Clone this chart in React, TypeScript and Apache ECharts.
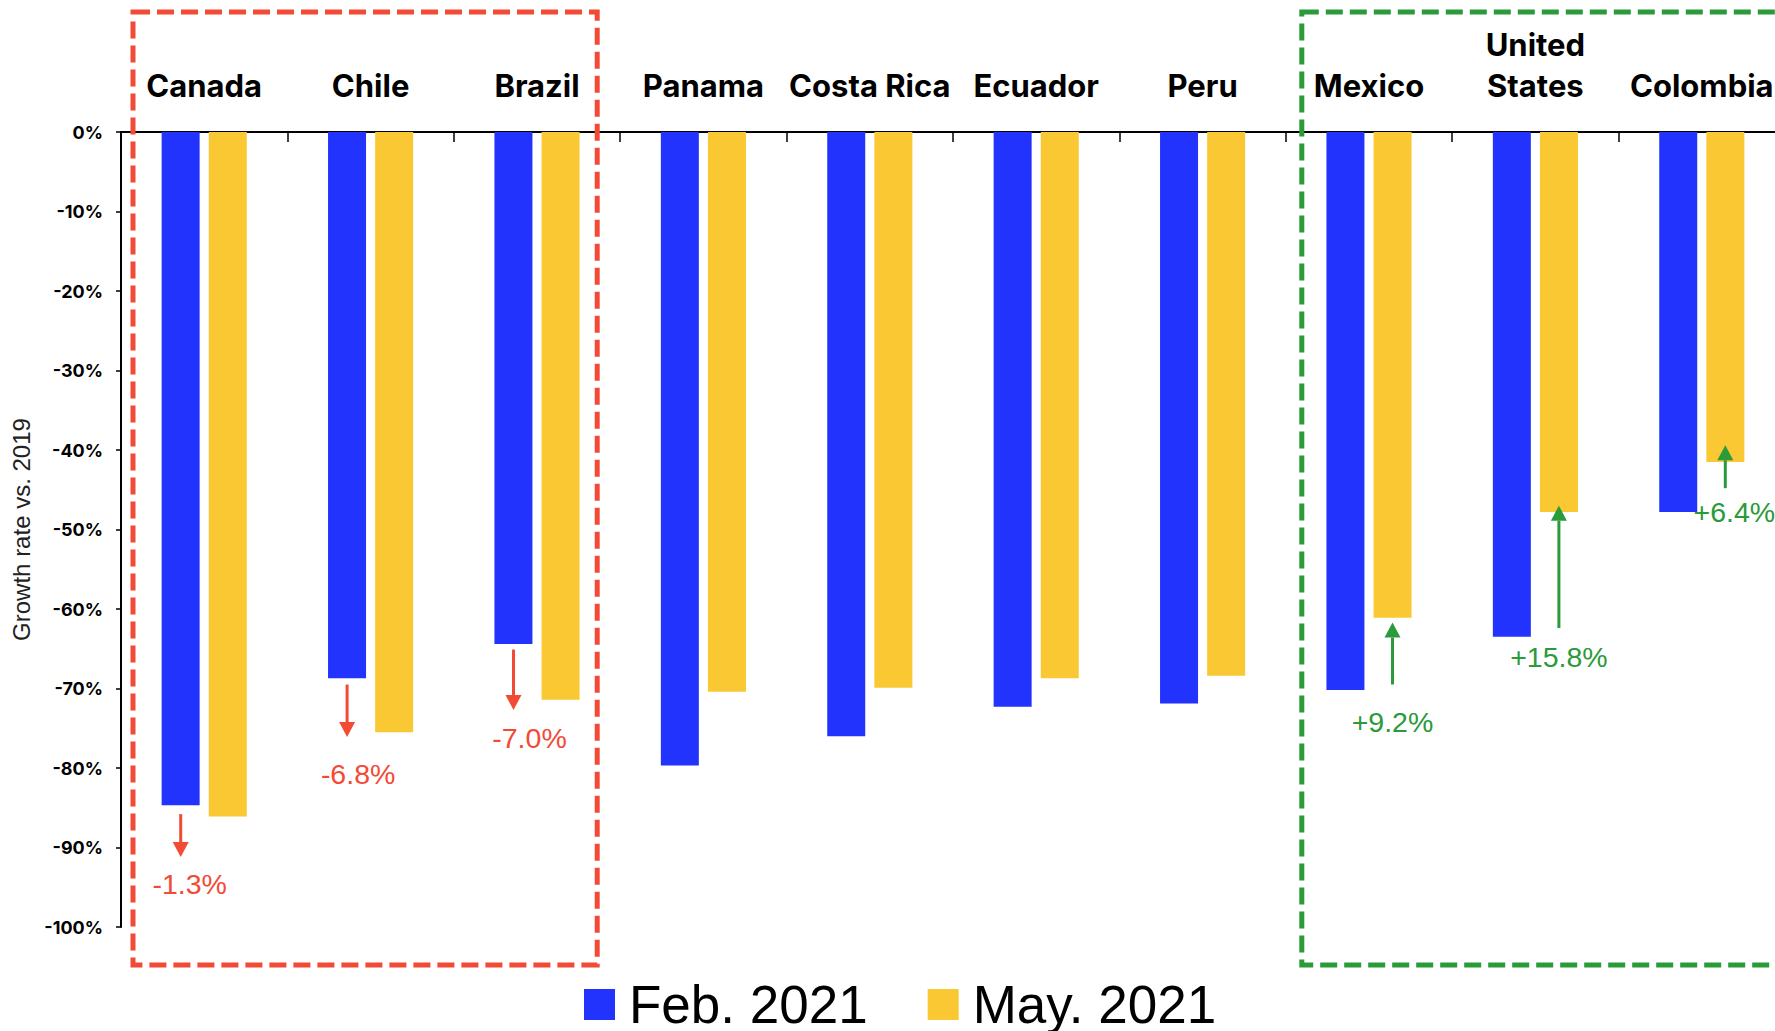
import React, { useEffect, useRef } from "react";
import * as echarts from "echarts";

const categories = [
  "Canada",
  "Chile",
  "Brazil",
  "Panama",
  "Costa Rica",
  "Ecuador",
  "Peru",
  "Mexico",
  "United\nStates",
  "Colombia",
];
const feb2021 = [-84.7, -68.7, -64.4, -79.7, -76.0, -72.3, -71.9, -70.2, -63.5, -47.8];
const may2021 = [-86.1, -75.5, -71.4, -70.4, -69.9, -68.7, -68.4, -61.1, -47.8, -41.5];
const seriesNames = ["Feb. 2021", "May. 2021"];

// change annotations: category index, bar (0 = Feb, 1 = May), arrow start/end and label value
const changeText = ["-1.3%", "-6.8%", "-7.0%", "+9.2%", "+15.8%", "+6.4%"];
const changeCat = [0, 1, 2, 7, 8, 9];
const changeBar = [0, 0, 0, 1, 1, 1];
const arrowFrom = [-85.8, -69.5, -65.1, -69.5, -62.4, -44.8];
const arrowTo = [-91.2, -76.1, -72.7, -61.7, -47.0, -39.4];
const labelAt = [-94.6, -80.7, -76.2, -74.2, -66.1, -47.8];
const labelShift = [9, 11, 16, 0, 0, 9];

// highlighted groups (first and last category index)
const groupFirst = [0, 7];
const groupLast = [2, 9];

const RED = "#F24A35";
const GREEN = "#2A9A3A";
const BLUE = "#2233FD";
const YELLOW = "#F9C833";
const BAR_W = 38;
const BAR_GAP = 9;

export default function App() {
  const ref = useRef<HTMLDivElement>(null);

  useEffect(() => {
    if (!ref.current) return;
    const chart = echarts.init(ref.current, null, { renderer: "svg" });
    const shift = (BAR_W + BAR_GAP) / 2;

    const option: any = {
      animation: false,
      backgroundColor: "#ffffff",
      grid: { left: 121, top: 132, right: 0, bottom: 104, containLabel: false },
      legend: {
        left: 579,
        top: 973,
        icon: "rect",
        itemWidth: 31,
        itemHeight: 31,
        itemGap: 60,
        data: seriesNames,
        textStyle: {
          fontSize: 53,
          fontFamily: "Liberation Sans, Arial, sans-serif",
          color: "#000",
          padding: [0, 0, 0, 9],
        },
      },
      xAxis: {
        type: "category",
        position: "top",
        data: categories,
        axisLine: { show: true, onZero: false, lineStyle: { color: "#000", width: 2 } },
        axisTick: { show: true, inside: true, length: 10, lineStyle: { color: "#000", width: 1.5 } },
        axisLabel: {
          interval: 0,
          margin: 26,
          color: "#000",
          fontSize: 31,
          fontWeight: 700,
          fontFamily: "Inter, Liberation Sans, Arial, sans-serif",
          lineHeight: 41,
        },
        splitLine: { show: false },
      },
      yAxis: {
        type: "value",
        min: -100,
        max: 0,
        interval: 10,
        name: "Growth rate vs. 2019",
        nameLocation: "middle",
        nameGap: 86,
        nameTextStyle: {
          fontSize: 24,
          fontFamily: "Liberation Sans, Arial, sans-serif",
          color: "#222",
        },
        axisLine: { show: true, lineStyle: { color: "#000", width: 2 } },
        axisTick: { show: true, length: 5, lineStyle: { color: "#000", width: 1.5 } },
        axisLabel: {
          margin: 18,
          color: "#000",
          fontSize: 18,
          fontWeight: 700,
          fontFamily: "Inter, Liberation Sans, Arial, sans-serif",
          formatter: (v: number) => `${v}%`,
        },
        splitLine: { show: false },
      },
      series: [
        {
          name: seriesNames[0],
          type: "bar",
          data: feb2021,
          barWidth: BAR_W,
          barGap: `${Math.round((BAR_GAP / BAR_W) * 100)}%`,
          itemStyle: { color: BLUE },
        },
        {
          name: seriesNames[1],
          type: "bar",
          data: may2021,
          barWidth: BAR_W,
          itemStyle: { color: YELLOW },
        },
        {
          type: "custom",
          clip: false,
          silent: true,
          z: 1,
          data: groupFirst.map((f, i) => [f, groupLast[i]]),
          encode: { x: 0 },
          renderItem: (params: any, api: any) => {
            const i = params.dataIndex;
            const bw = api.size([1, 0])[0];
            const first = groupFirst[i];
            const last = groupLast[i];
            const color = i === 0 ? RED : GREEN;
            const left = api.coord([first, 0])[0] - bw / 2 + (i === 0 ? 12 : 16);
            const right = api.coord([last, 0])[0] + bw / 2 + (i === 0 ? -23 : 30);
            const top = api.coord([first, 0])[1] - 120;
            const bottom = api.coord([first, -100])[1] + 38;
            return {
              type: "rect",
              shape: { x: left, y: top, width: right - left, height: bottom - top },
              style: { fill: "none", stroke: color, lineWidth: 5, lineDash: [17, 7] },
            };
          },
        },
        {
          type: "custom",
          clip: false,
          silent: true,
          z: 5,
          data: changeCat.map((c, i) => [c, arrowTo[i]]),
          encode: { x: 0, y: 1 },
          renderItem: (params: any, api: any) => {
            const i = params.dataIndex;
            const cat = changeCat[i];
            const color = changeBar[i] === 0 ? RED : GREEN;
            const cx = api.coord([cat, 0])[0] + (changeBar[i] === 0 ? -shift : shift);
            const y1 = api.coord([cat, arrowFrom[i]])[1];
            const y2 = api.coord([cat, arrowTo[i]])[1];
            const ty = api.coord([cat, labelAt[i]])[1];
            const dir = y2 > y1 ? 1 : -1;
            const headLen = 15;
            const headW = 8;
            const base = y2 - dir * headLen;
            return {
              type: "group",
              children: [
                {
                  type: "line",
                  shape: { x1: cx, y1: y1, x2: cx, y2: base },
                  style: { stroke: color, lineWidth: 3 },
                },
                {
                  type: "polygon",
                  shape: { points: [[cx - headW, base], [cx + headW, base], [cx, y2]] },
                  style: { fill: color },
                },
                {
                  type: "text",
                  x: cx + labelShift[i],
                  y: ty,
                  style: {
                    text: changeText[i],
                    fill: color,
                    fontSize: 28.5,
                    fontFamily: "Liberation Sans, Arial, sans-serif",
                    align: "center",
                    verticalAlign: "middle",
                  },
                },
              ],
            };
          },
        },
      ],
    };

    chart.setOption(option);
    return () => chart.dispose();
  }, []);

  return (
    <div
      ref={ref}
      style={{ position: "fixed", left: 0, top: 0, width: 1785, height: 1031, background: "#fff" }}
    />
  );
}
